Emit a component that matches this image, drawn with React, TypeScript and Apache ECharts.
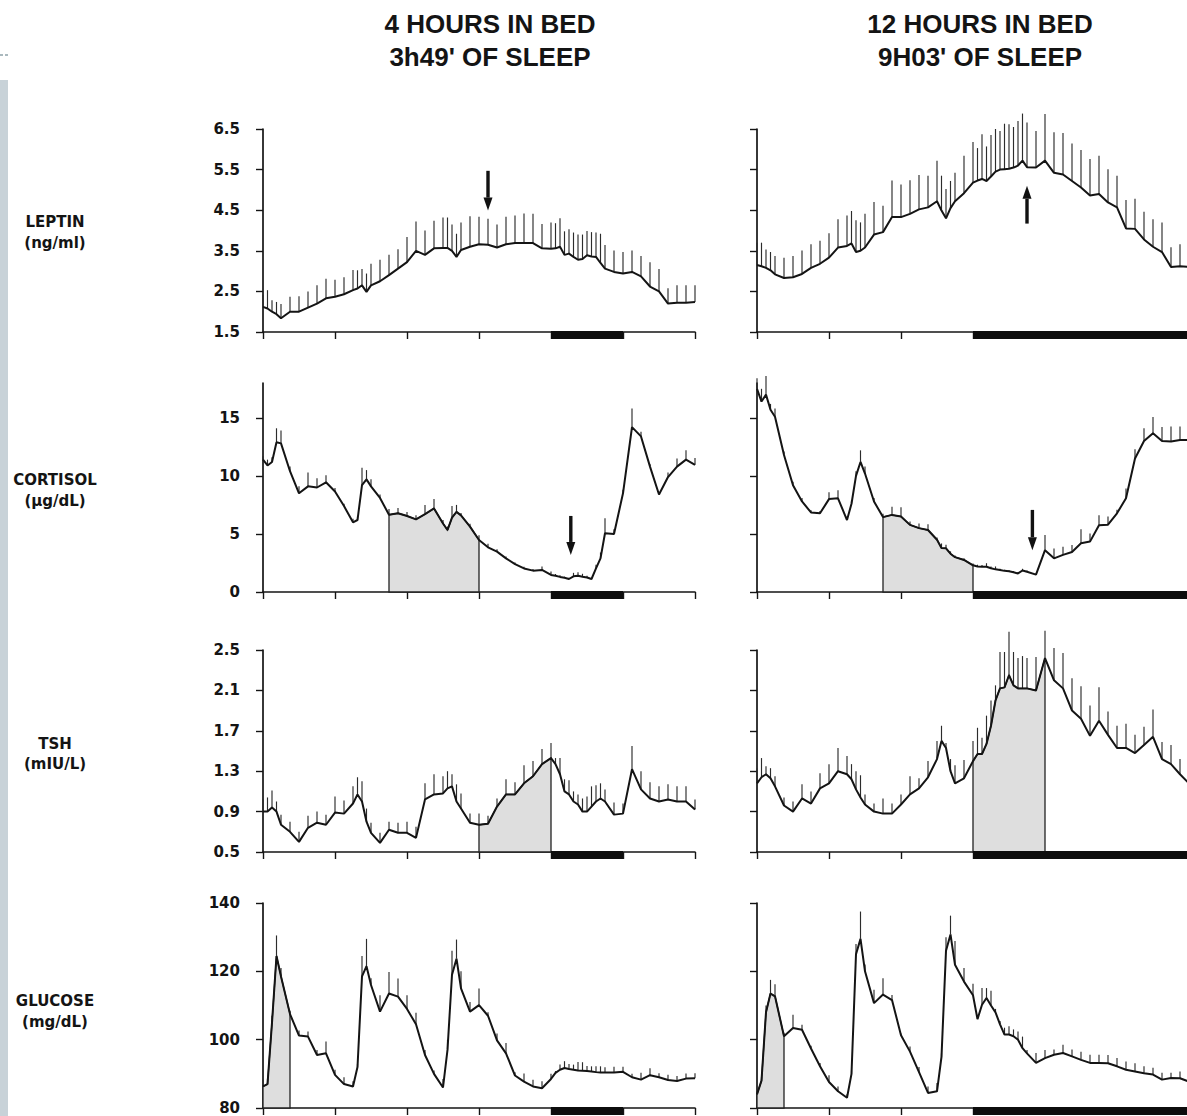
import React, { useEffect, useRef } from "react";
import * as echarts from "echarts";

// ---------- data: [hour, mean, SEM] ----------
const leptinShort: number[][] = [
  [0, 2.12, 0.3], [0.25, 2.08, 0.45], [0.5, 2.0, 0.28], [0.75, 1.94, 0.3], [1, 1.84, 0.35],
  [1.5, 2.0, 0.37], [2, 2.0, 0.38], [2.5, 2.1, 0.4], [3, 2.2, 0.45], [3.5, 2.33, 0.48], [4, 2.37, 0.42], [4.5, 2.43, 0.42], [5, 2.53, 0.5],
  [5.25, 2.57, 0.45], [5.5, 2.65, 0.4], [5.75, 2.49, 0.45], [6, 2.65, 0.53],
  [6.5, 2.75, 0.53], [7, 2.9, 0.5], [7.5, 3.06, 0.48], [8, 3.22, 0.62], [8.5, 3.5, 0.72], [9, 3.4, 0.6], [9.5, 3.56, 0.68], [10, 3.57, 0.75],
  [10.25, 3.57, 0.75], [10.5, 3.5, 0.65], [10.75, 3.35, 0.57], [11, 3.52, 0.68],
  [11.5, 3.6, 0.75], [12, 3.66, 0.68], [12.5, 3.65, 0.64], [13, 3.58, 0.57], [13.5, 3.66, 0.68], [14, 3.69, 0.68], [14.5, 3.69, 0.73], [15, 3.69, 0.72], [15.5, 3.56, 0.6], [16, 3.55, 0.65],
  [16.25, 3.56, 0.62], [16.5, 3.6, 0.7], [16.75, 3.4, 0.58], [17, 3.43, 0.6], [17.25, 3.35, 0.6], [17.5, 3.28, 0.62], [17.75, 3.3, 0.6], [18, 3.39, 0.6], [18.25, 3.36, 0.6], [18.5, 3.35, 0.6], [18.75, 3.2, 0.72], [19, 3.06, 0.58],
  [19.5, 2.98, 0.53], [20, 2.94, 0.53], [20.5, 2.98, 0.53], [21, 2.87, 0.5], [21.5, 2.62, 0.6], [22, 2.5, 0.55], [22.5, 2.2, 0.38], [23, 2.22, 0.43], [23.5, 2.22, 0.43], [24, 2.24, 0.41],
];

const leptinLong: number[][] = [
  [0, 3.15, 0.55], [0.25, 3.12, 0.58], [0.5, 3.08, 0.45], [0.75, 3.02, 0.45], [1, 2.92, 0.45],
  [1.5, 2.83, 0.5], [2, 2.85, 0.52], [2.5, 2.93, 0.58], [3, 3.08, 0.58], [3.5, 3.18, 0.57], [4, 3.33, 0.6], [4.5, 3.58, 0.7], [5, 3.62, 0.75],
  [5.25, 3.68, 0.8], [5.5, 3.47, 0.78], [5.75, 3.5, 0.7], [6, 3.58, 0.83],
  [6.5, 3.9, 0.8], [7, 3.96, 0.65], [7.5, 4.33, 0.9], [8, 4.33, 0.8], [8.5, 4.41, 0.83], [9, 4.52, 0.85], [9.5, 4.57, 0.78], [10, 4.72, 1.0],
  [10.25, 4.49, 0.86], [10.5, 4.3, 0.72], [10.75, 4.55, 0.67], [11, 4.72, 0.7],
  [11.5, 4.92, 0.92], [12, 5.18, 1.0],
  [12.25, 5.23, 0.8], [12.5, 5.27, 1.1], [12.75, 5.22, 0.85], [13, 5.33, 1.02], [13.25, 5.45, 1.05], [13.5, 5.5, 0.95], [13.75, 5.51, 1.12], [14, 5.52, 1.1], [14.25, 5.55, 1.0], [14.5, 5.6, 1.1], [14.75, 5.72, 1.16], [15, 5.56, 1.1],
  [15.5, 5.55, 0.9], [16, 5.72, 1.15], [16.5, 5.42, 1.0], [17, 5.38, 1.02], [17.5, 5.22, 0.92], [18, 5.06, 0.92], [18.5, 4.86, 0.9], [19, 4.9, 0.94], [19.5, 4.69, 0.82], [20, 4.57, 0.78],
  [20.5, 4.05, 0.7], [21, 4.04, 0.74], [21.5, 3.78, 0.68], [22, 3.6, 0.68], [22.5, 3.47, 0.73], [23, 3.1, 0.49], [23.5, 3.12, 0.54], [24, 3.1, 0.5],
];

const cortisolShort: number[][] = [
  [0, 11.4, 0.3], [0.25, 10.9, 0.5], [0.5, 11.2, 0.4], [0.75, 12.9, 1.2], [1, 12.8, 1.1],
  [1.5, 10.4, 0.4], [2, 8.5, 0.6], [2.5, 9.1, 1.2], [3, 9.0, 0.8], [3.5, 9.45, 0.6], [4, 8.65, 0.3], [4.5, 7.4, 0.2], [5, 6.0, 0.3],
  [5.25, 6.2, 0.3], [5.5, 9.2, 1.5], [5.75, 9.7, 0.8], [6, 9.1, 0.6],
  [6.5, 8.1, 0.3], [7, 6.65, 0.5], [7.5, 6.78, 0.45], [8, 6.55, 0.35], [8.5, 6.26, 0.35], [9, 6.7, 0.8], [9.5, 7.2, 0.8], [10, 5.9, 0.3],
  [10.25, 5.34, 0.3], [10.5, 6.4, 1.0], [10.75, 6.9, 0.6], [11, 6.6, 0.2],
  [11.5, 5.63, 0.25], [12, 4.48, 0.4], [12.5, 3.85, 0.3], [13, 3.48, 0.2], [13.5, 2.9, 0.15], [14, 2.4, 0.15], [14.5, 2.03, 0.15], [15, 1.84, 0.15], [15.5, 1.9, 0.3], [16, 1.47, 0.3],
  [16.25, 1.4, 0.15], [16.5, 1.3, 0.15], [16.75, 1.22, 0.1], [17, 1.12, 0.1], [17.25, 1.35, 0.3], [17.5, 1.4, 0.3], [17.75, 1.32, 0.25], [18, 1.25, 0.15], [18.25, 1.12, 0.1], [18.5, 2.04, 0.3], [18.75, 2.9, 0.5], [19, 5.06, 1.3],
  [19.5, 5.0, 0.4], [20, 8.5, 0.3], [20.5, 14.2, 1.6], [21, 13.4, 0.4], [21.5, 10.8, 0.2], [22, 8.4, 0.2], [22.5, 9.9, 0.4], [23, 10.8, 0.7], [23.5, 11.4, 0.8], [24, 10.95, 0.6],
];

const cortisolLong: number[][] = [
  [0, 17.5, 0.9], [0.25, 16.4, 1.1], [0.5, 17.0, 1.6], [0.75, 15.7, 0.5], [1, 15.1, 0.7],
  [1.5, 11.8, 0.3], [2, 9.2, 0.3], [2.5, 7.8, 0.3], [3, 6.85, 0.2], [3.5, 6.78, 0.2], [4, 8.0, 0.6], [4.5, 8.07, 0.7], [5, 6.2, 0.3],
  [5.25, 7.6, 0.3], [5.5, 10.0, 0.4], [5.75, 11.2, 1.0], [6, 10.2, 0.6],
  [6.5, 7.8, 0.3], [7, 6.45, 0.3], [7.5, 6.64, 0.7], [8, 6.5, 0.8], [8.5, 5.78, 0.3], [9, 5.5, 0.4], [9.5, 5.34, 0.5], [10, 4.5, 0.2],
  [10.25, 3.78, 0.4], [10.5, 3.76, 0.3], [10.75, 3.3, 0.2], [11, 3.0, 0.15],
  [11.5, 2.76, 0.15], [12, 2.3, 0.15],
  [12.25, 2.2, 0.15], [12.5, 2.18, 0.15], [12.75, 2.18, 0.3], [13, 2.05, 0.15], [13.25, 1.95, 0.25], [13.5, 1.9, 0.1], [13.75, 1.82, 0.1], [14, 1.78, 0.1], [14.25, 1.7, 0.1], [14.5, 1.6, 0.1], [14.75, 1.85, 0.15], [15, 1.75, 0.1],
  [15.5, 1.5, 0.1], [16, 3.6, 1.3], [16.5, 2.9, 0.85], [17, 3.2, 0.7], [17.5, 3.45, 0.6], [18, 4.2, 1.2], [18.5, 4.34, 0.7], [19, 5.75, 0.85], [19.5, 5.8, 0.7], [20, 6.78, 0.3],
  [20.5, 8.07, 0.85], [21, 11.5, 0.8], [21.5, 13.0, 1.1], [22, 13.68, 1.4], [22.5, 13.0, 1.2], [23, 12.96, 1.3], [23.5, 13.1, 1.15], [24, 13.1, 1.1],
];

const tshShort: number[][] = [
  [0, 0.9, 0.12], [0.25, 0.9, 0.14], [0.5, 0.94, 0.17], [0.75, 0.9, 0.1], [1, 0.77, 0.1],
  [1.5, 0.7, 0.1], [2, 0.6, 0.1], [2.5, 0.74, 0.12], [3, 0.79, 0.11], [3.5, 0.77, 0.1], [4, 0.89, 0.16], [4.5, 0.88, 0.13], [5, 0.98, 0.17],
  [5.25, 1.07, 0.17], [5.5, 1.0, 0.2], [5.75, 0.8, 0.13], [6, 0.69, 0.1],
  [6.5, 0.59, 0.1], [7, 0.72, 0.08], [7.5, 0.69, 0.1], [8, 0.69, 0.11], [8.5, 0.64, 0.11], [9, 1.02, 0.16], [9.5, 1.07, 0.2], [10, 1.08, 0.17],
  [10.25, 1.13, 0.17], [10.5, 1.15, 0.12], [10.75, 1.0, 0.17], [11, 0.93, 0.15],
  [11.5, 0.79, 0.09], [12, 0.77, 0.11], [12.5, 0.78, 0.08], [13, 0.95, 0.08], [13.5, 1.07, 0.15], [14, 1.07, 0.12], [14.5, 1.18, 0.18], [15, 1.25, 0.15], [15.5, 1.37, 0.15], [16, 1.43, 0.15],
  [16.25, 1.37, 0.06], [16.5, 1.27, 0.16], [16.75, 1.1, 0.12], [17, 1.07, 0.14], [17.25, 1.0, 0.1], [17.5, 0.97, 0.1], [17.75, 0.9, 0.13], [18, 0.9, 0.15], [18.25, 0.95, 0.2], [18.5, 1.0, 0.16], [18.75, 1.03, 0.15], [19, 1.0, 0.12],
  [19.5, 0.87, 0.12], [20, 0.88, 0.1], [20.5, 1.32, 0.23], [21, 1.12, 0.18], [21.5, 1.03, 0.16], [22, 1.0, 0.15], [22.5, 1.02, 0.15], [23, 1.0, 0.15], [23.5, 1.0, 0.15], [24, 0.92, 0.1],
];

const tshLong: number[][] = [
  [0, 1.18, 0.15], [0.25, 1.24, 0.19], [0.5, 1.27, 0.08], [0.75, 1.23, 0.1], [1, 1.15, 0.1],
  [1.5, 0.96, 0.08], [2, 0.9, 0.1], [2.5, 1.03, 0.14], [3, 0.98, 0.12], [3.5, 1.13, 0.15], [4, 1.18, 0.19], [4.5, 1.3, 0.23], [5, 1.27, 0.18],
  [5.25, 1.22, 0.15], [5.5, 1.12, 0.18], [5.75, 1.04, 0.22], [6, 0.97, 0.1],
  [6.5, 0.9, 0.08], [7, 0.88, 0.15], [7.5, 0.88, 0.1], [8, 0.97, 0.1], [8.5, 1.07, 0.18], [9, 1.13, 0.1], [9.5, 1.24, 0.16], [10, 1.42, 0.18],
  [10.25, 1.6, 0.15], [10.5, 1.53, 0.05], [10.75, 1.3, 0.12], [11, 1.18, 0.18],
  [11.5, 1.23, 0.18], [12, 1.4, 0.2],
  [12.25, 1.47, 0.26], [12.5, 1.47, 0.16], [12.75, 1.57, 0.28], [13, 1.75, 0.25], [13.25, 2.0, 0.15], [13.5, 2.12, 0.36], [13.75, 2.13, 0.35], [14, 2.25, 0.43], [14.25, 2.15, 0.33], [14.5, 2.12, 0.3], [14.75, 2.12, 0.32], [15, 2.12, 0.3],
  [15.5, 2.1, 0.33], [16, 2.42, 0.27], [16.5, 2.2, 0.32], [17, 2.12, 0.35], [17.5, 1.9, 0.32], [18, 1.82, 0.32], [18.5, 1.65, 0.3], [19, 1.8, 0.33], [19.5, 1.66, 0.23], [20, 1.53, 0.22],
  [20.5, 1.53, 0.24], [21, 1.48, 0.18], [21.5, 1.56, 0.18], [22, 1.64, 0.27], [22.5, 1.42, 0.17], [23, 1.37, 0.19], [23.5, 1.27, 0.15], [24, 1.18, 0.13],
];

const glucoseShort: number[][] = [
  [0, 86.3, 2], [0.25, 87, 1.5], [0.5, 105, 2], [0.75, 124.5, 6], [1, 118.5, 2.5],
  [1.5, 107.5, 1], [2, 101.2, 1.5], [2.5, 100.9, 1.5], [3, 95.5, 1.5], [3.5, 96, 3.5], [4, 89.7, 1.5], [4.5, 87, 2], [5, 86.3, 1.5],
  [5.25, 92, 1], [5.5, 118.5, 6], [5.75, 121.5, 8], [6, 116, 2],
  [6.5, 108.2, 4.8], [7, 113.5, 6.3], [7.5, 112.6, 5.3], [8, 109, 4], [8.5, 104.5, 3.4], [9, 95.5, 1.5], [9.5, 90, 1], [10, 86, 2.5],
  [10.25, 97, 3], [10.5, 119, 7], [10.75, 123.7, 5.6], [11, 115, 5],
  [11.5, 108.2, 2.8], [12, 110.1, 4.9], [12.5, 107, 1], [13, 99.8, 2], [13.5, 96, 3], [14, 89.5, 1], [14.5, 87.7, 2.4], [15, 86.3, 2], [15.5, 85.8, 2], [16, 88.5, 1.5],
  [16.25, 90.3, 0.5], [16.5, 91.2, 1.5], [16.75, 91.7, 2], [17, 91.4, 1.5], [17.25, 91.2, 1.5], [17.5, 91, 2.5], [17.75, 90.9, 2.5], [18, 90.8, 1.5], [18.25, 90.7, 1.5], [18.5, 90.5, 1.7], [18.75, 90.4, 1.8], [19, 90.4, 1.5],
  [19.5, 90.4, 1.7], [20, 90.6, 1.5], [20.5, 89, 1], [21, 88.3, 2], [21.5, 89.6, 2], [22, 89, 1.2], [22.5, 88.2, 1.5], [23, 87.9, 1.5], [23.5, 88.6, 1.5], [24, 88.7, 1.5],
];

const glucoseLong: number[][] = [
  [0, 84, 1], [0.25, 88, 1], [0.5, 108, 2], [0.75, 113.5, 4], [1, 112.7, 3.5],
  [1.5, 101, 1], [2, 103.4, 3.9], [2.5, 102.9, 1.5], [3, 97.4, 0.8], [3.5, 92.2, 1], [4, 87.6, 2], [4.5, 84.9, 1.4], [5, 83, 1],
  [5.25, 90, 1], [5.5, 125, 3], [5.75, 129.5, 8], [6, 120, 2],
  [6.5, 110.7, 3.9], [7, 113.2, 4.8], [7.5, 111.6, 1.5], [8, 101.3, 0.5], [8.5, 96.5, 1.5], [9, 90.5, 1.5], [9.5, 84.4, 1.9], [10, 84.9, 2.4],
  [10.25, 95, 1], [10.5, 126, 4], [10.75, 130.8, 5.5], [11, 121.9, 7],
  [11.5, 117, 4], [12, 113, 3.4],
  [12.25, 106, 1], [12.5, 110.2, 4.9], [12.75, 112.2, 2.9], [13, 110, 4.3], [13.25, 108, 1], [13.5, 104.5, 1], [13.75, 101.5, 2], [14, 101.5, 2.4], [14.25, 101, 2], [14.5, 100, 2.4], [14.75, 97.5, 3.4], [15, 96, 1],
  [15.5, 93.2, 2.9], [16, 94.6, 2.4], [16.5, 95.6, 1.5], [17, 96.1, 2.4], [17.5, 95.1, 2], [18, 94.1, 2.4], [18.5, 93.2, 2.4], [19, 93.2, 2.4], [19.5, 93.1, 2.4], [20, 92.2, 2.4],
  [20.5, 91.2, 2.4], [21, 90.7, 2.4], [21.5, 90.2, 2], [22, 89.8, 2], [22.5, 88.3, 2], [23, 88.8, 1.5], [23.5, 88.7, 2], [24, 87.7, 1.5],
];

// tick labels
const hourTicks = [0, 4, 8, 12, 16, 20, 24];
const leptinTicks = [1.5, 2.5, 3.5, 4.5, 5.5, 6.5];
const cortisolTicks = [0, 5, 10, 15];
const tshTicks = [0.5, 0.9, 1.3, 1.7, 2.1, 2.5];
const glucoseTicks = [80, 100, 120, 140];

// time windows (hours)
const sleepShort = [16, 20];
const sleepLong = [12, 24];
const shadeCortisol = [7, 12];
const shadeTsh = [12, 16];
const shadeGlucose = [0, 1.5];

// arrows: row, column, hour, from value, to value
const arrows = [
  [0, 0, 12.5, 5.47, 4.49],
  [0, 1, 15.0, 4.17, 5.1],
  [1, 0, 17.1, 6.55, 3.19],
  [1, 1, 15.3, 7.07, 3.6],
];

const headers = [
  ["4 HOURS IN BED", "3h49' OF SLEEP"],
  ["12 HOURS IN BED", "9H03' OF SLEEP"],
];

const ROWS = [
  { label: "LEPTIN", unit: "(ng/ml)", min: 1.5, max: 6.5, ticks: leptinTicks, digits: 1, data: [leptinShort, leptinLong], shade: null as number[] | null, top: 129, height: 203, ly: [222, 243] },
  { label: "CORTISOL", unit: "(µg/dL)", min: 0, max: 18, ticks: cortisolTicks, digits: 0, data: [cortisolShort, cortisolLong], shade: shadeCortisol, top: 383, height: 209, ly: [480, 501] },
  { label: "TSH", unit: "(mIU/L)", min: 0.5, max: 2.5, ticks: tshTicks, digits: 1, data: [tshShort, tshLong], shade: shadeTsh, top: 650, height: 202, ly: [744, 764] },
  { label: "GLUCOSE", unit: "(mg/dL)", min: 80, max: 140, ticks: glucoseTicks, digits: 0, data: [glucoseShort, glucoseLong], shade: shadeGlucose, top: 903, height: 205, ly: [1001, 1022] },
];

const COLS = [
  { left: 263, width: 432, yOffset: 7, labels: true, sleep: sleepShort, hx: 490 },
  { left: 757, width: 432, yOffset: 8, labels: false, sleep: sleepLong, hx: 980 },
];

const INK = "#141414";

function textEl(text: string, x: number, y: number, font: string) {
  return {
    type: "text",
    x,
    y,
    silent: true,
    style: {
      text,
      font,
      fill: INK,
      align: "center",
      verticalAlign: "middle",
      textAlign: "center",
      textVerticalAlign: "middle",
    },
  };
}

function buildOption() {
  const grid: any[] = [];
  const xAxis: any[] = [];
  const yAxis: any[] = [];
  const series: any[] = [];

  ROWS.forEach((row, r) => {
    COLS.forEach((col, c) => {
      const idx = grid.length;
      const pts = row.data[c];
      grid.push({ left: col.left, top: row.top, width: col.width, height: row.height, containLabel: false, outerBoundsMode: "none" });
      xAxis.push({
        type: "value",
        gridIndex: idx,
        min: 0,
        max: 24,
        interval: 4,
        axisLine: { show: true, lineStyle: { color: INK, width: 1.7 } },
        axisTick: { show: true, length: 7, customValues: hourTicks, lineStyle: { color: INK, width: 1.4 } },
        axisLabel: { show: false },
        splitLine: { show: false },
      });
      yAxis.push({
        type: "value",
        gridIndex: idx,
        min: row.min,
        max: row.max,
        offset: col.yOffset,
        axisLine: { show: true, lineStyle: { color: INK, width: 1.7 } },
        axisTick: { show: true, length: 7, customValues: row.ticks, lineStyle: { color: INK, width: 1.4 } },
        axisLabel: {
          show: col.labels,
          customValues: row.ticks,
          margin: 16,
          color: INK,
          fontFamily: "DejaVu Sans",
          fontWeight: "bold",
          fontSize: 15,
          formatter: (v: number) => v.toFixed(row.digits),
        },
        splitLine: { show: false },
      });

      // shaded window under the curve
      if (row.shade) {
        const [t0, t1] = row.shade;
        series.push({
          type: "custom",
          xAxisIndex: idx,
          yAxisIndex: idx,
          z: 1,
          silent: true,
          clip: false,
          data: [[t0, row.min]],
          renderItem: (_p: any, api: any) => {
            const poly: number[][] = [api.coord([t0, row.min])];
            pts.forEach((d) => {
              if (d[0] >= t0 && d[0] <= t1) poly.push(api.coord([d[0], d[1]]));
            });
            poly.push(api.coord([t1, row.min]));
            return {
              type: "polygon",
              shape: { points: poly },
              style: { fill: "#dedede", stroke: "#222", lineWidth: 1.3 },
            };
          },
        });
      }

      // SEM whiskers (upward)
      series.push({
        type: "custom",
        xAxisIndex: idx,
        yAxisIndex: idx,
        z: 2,
        silent: true,
        clip: false,
        data: pts,
        renderItem: (_p: any, api: any) => {
          const t = api.value(0);
          const v = api.value(1);
          const e = api.value(2);
          const a = api.coord([t, v]);
          const b = api.coord([t, v + e]);
          return {
            type: "line",
            shape: { x1: a[0], y1: a[1], x2: b[0], y2: b[1] },
            style: { stroke: "#2c2c2c", lineWidth: 1.15 },
          };
        },
      });

      // mean curve
      series.push({
        type: "line",
        xAxisIndex: idx,
        yAxisIndex: idx,
        z: 3,
        silent: true,
        clip: false,
        showSymbol: false,
        symbol: "none",
        data: pts.map((d) => [d[0], d[1]]),
        lineStyle: { color: INK, width: 2 },
      });

      // bed-time bar under the axis
      const [s0, s1] = col.sleep;
      series.push({
        type: "custom",
        xAxisIndex: idx,
        yAxisIndex: idx,
        z: 4,
        silent: true,
        clip: false,
        data: [[s0, row.min]],
        renderItem: (_p: any, api: any) => {
          const a = api.coord([s0, row.min]);
          const b = api.coord([s1, row.min]);
          return {
            type: "rect",
            shape: { x: a[0], y: a[1] - 1, width: b[0] - a[0], height: 8 },
            style: { fill: "#0d0d0d" },
          };
        },
      });

      // arrows
      const myArrows = arrows.filter((a) => a[0] === r && a[1] === c).map((a) => [a[2], a[3], a[4]]);
      if (myArrows.length) {
        series.push({
          type: "custom",
          xAxisIndex: idx,
          yAxisIndex: idx,
          z: 5,
          silent: true,
          clip: false,
          data: myArrows,
          renderItem: (_p: any, api: any) => {
            const t = api.value(0);
            const p0 = api.coord([t, api.value(1)]);
            const p1 = api.coord([t, api.value(2)]);
            const dir = p1[1] > p0[1] ? 1 : -1;
            const headLen = 13;
            const half = 4.5;
            const baseY = p1[1] - dir * headLen;
            return {
              type: "group",
              children: [
                { type: "line", shape: { x1: p0[0], y1: p0[1], x2: p0[0], y2: baseY }, style: { stroke: "#111", lineWidth: 3.4 } },
                { type: "polygon", shape: { points: [[p1[0] - half, baseY], [p1[0] + half, baseY], [p1[0], p1[1]]] }, style: { fill: "#111" } },
              ],
            };
          },
        });
      }
    });
  });

  const graphic: any[] = [
    { type: "rect", silent: true, shape: { x: 0, y: 80, width: 8, height: 1036 }, style: { fill: "#c8d2d8" } },
    { type: "line", silent: true, shape: { x1: 0, y1: 55, x2: 8, y2: 55 }, style: { stroke: "#8ea2a9", lineWidth: 1.5, lineDash: [3, 2] } },
  ];
  COLS.forEach((col, c) => {
    graphic.push(textEl(headers[c][0], col.hx, 24, 'bold 26px "Liberation Sans", Arial, sans-serif'));
    graphic.push(textEl(headers[c][1], col.hx, 57, 'bold 26px "Liberation Sans", Arial, sans-serif'));
  });
  ROWS.forEach((row) => {
    graphic.push(textEl(row.label, 55, row.ly[0], 'bold 15px "DejaVu Sans", sans-serif'));
    graphic.push(textEl(row.unit, 55, row.ly[1], 'bold 15px "DejaVu Sans", sans-serif'));
  });

  return {
    animation: false,
    backgroundColor: "#ffffff",
    grid,
    xAxis,
    yAxis,
    series,
    graphic,
  };
}

export default function App() {
  const ref = useRef<HTMLDivElement>(null);
  useEffect(() => {
    document.body.style.margin = "0";
    document.body.style.overflow = "hidden";
    const chart = echarts.init(ref.current as HTMLDivElement, null, { renderer: "svg" });
    chart.setOption(buildOption() as any);
    return () => chart.dispose();
  }, []);
  return <div ref={ref} style={{ width: 1187, height: 1116, background: "#fff" }} />;
}
